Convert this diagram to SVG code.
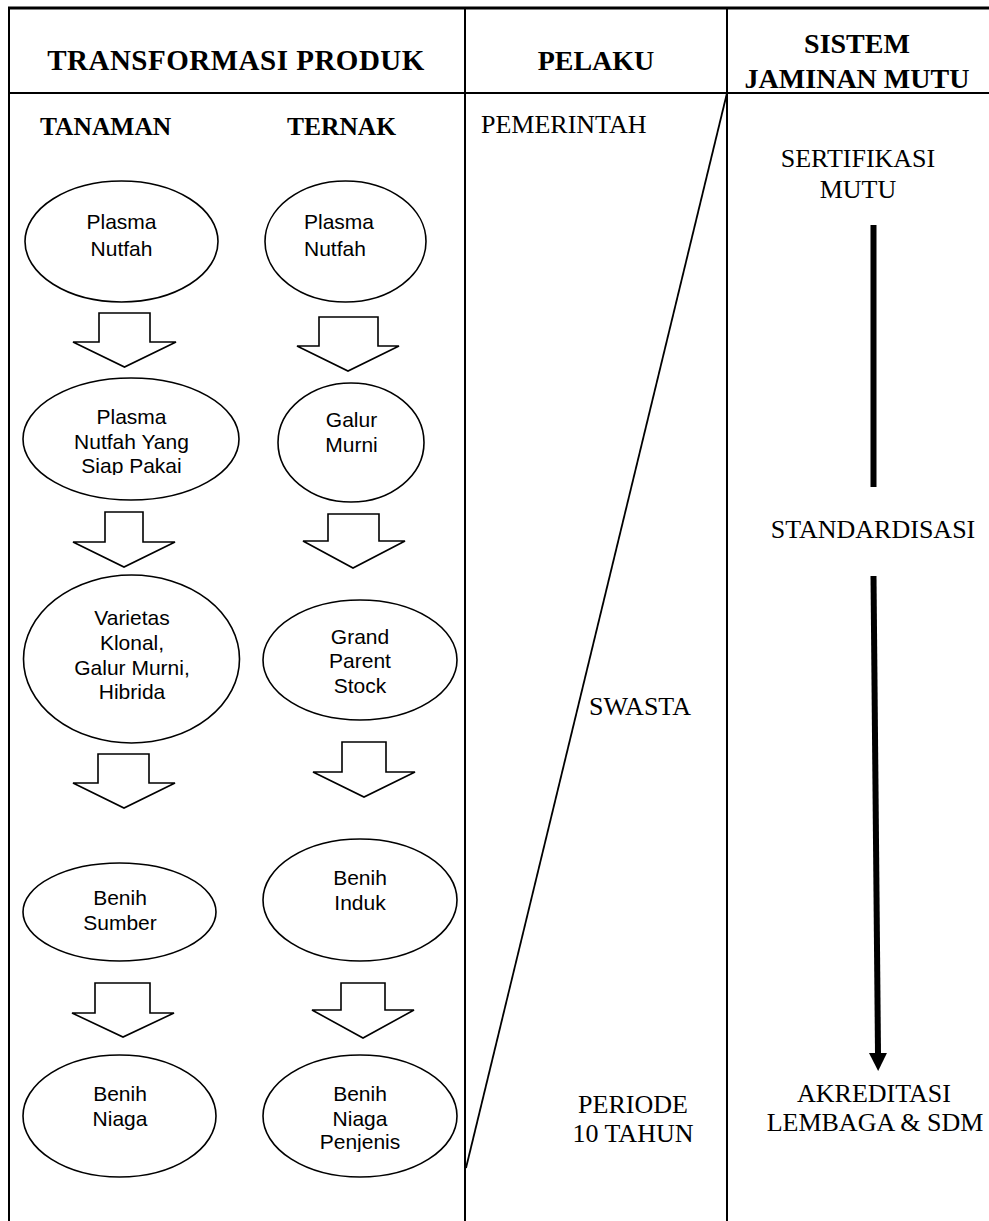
<svg xmlns="http://www.w3.org/2000/svg" width="989" height="1221" viewBox="0 0 989 1221">
  <style>
    .frame { stroke: #000; stroke-width: 2; fill: none; }
    .head { font-family: "Liberation Serif", "Times New Roman", serif; font-weight: bold; fill: #000; }
    .lbl { font-family: "Liberation Serif", "Times New Roman", serif; font-size: 26px; fill: #000; }
    .node ellipse { fill: #fff; stroke: #000; stroke-width: 1.6; }
    .node text { font-family: "Liberation Sans", Arial, sans-serif; font-size: 21px; fill: #000; text-anchor: middle; }
    .node text.lft { text-anchor: start; }
    .blk { fill: #fff; stroke: #000; stroke-width: 1.6; stroke-linejoin: miter; }
    .bar { stroke: #000; stroke-width: 6; fill: none; }
  </style>
  <defs>
    <marker id="solidHead" markerUnits="userSpaceOnUse" markerWidth="18" markerHeight="18" refX="0" refY="9" orient="auto">
      <path d="M0,0 L18,9 L0,18 z" fill="#000"/>
    </marker>
    <clipPath id="clipSiap"><rect x="20" y="370" width="230" height="105"/></clipPath>
    <clipPath id="clipPenjenis"><rect x="260" y="1050" width="200" height="102"/></clipPath>
  </defs>

  <rect width="989" height="1221" fill="#fff"/>

  <!-- table frame (right edge runs off the page) -->
  <g id="frame">
    <line x1="8" y1="8" x2="989" y2="8" stroke="#000" stroke-width="3"/>
    <line class="frame" x1="9" y1="8" x2="9" y2="1221"/>
    <line class="frame" x1="465" y1="8" x2="465" y2="1221"/>
    <line class="frame" x1="727" y1="8" x2="727" y2="1221"/>
    <line class="frame" x1="9" y1="93" x2="989" y2="93"/>
    <!-- government / private split -->
    <line x1="727" y1="93" x2="466" y2="1168" stroke="#000" stroke-width="1.8"/>
  </g>

  <!-- column headings -->
  <g id="headings">
    <text class="head" x="236" y="70" font-size="29" letter-spacing="0.5" text-anchor="middle">TRANSFORMASI PRODUK</text>
    <text class="head" x="596" y="70" font-size="28" text-anchor="middle">PELAKU</text>
    <text class="head" x="857" y="53" font-size="28" text-anchor="middle">SISTEM</text>
    <text class="head" x="857" y="88" font-size="28" text-anchor="middle">JAMINAN MUTU</text>
    <text class="head" x="40" y="135" font-size="25.5">TANAMAN</text>
    <text class="head" x="287" y="135" font-size="25.5">TERNAK</text>
  </g>

  <!-- actors -->
  <g id="pelaku">
    <text class="lbl" x="481" y="133">PEMERINTAH</text>
    <text class="lbl" x="589" y="715">SWASTA</text>
    <text class="lbl" x="633" y="1113" text-anchor="middle">PERIODE</text>
    <text class="lbl" x="633" y="1142" text-anchor="middle">10 TAHUN</text>
  </g>

  <!-- quality assurance column -->
  <g id="mutu">
    <text class="lbl" x="858" y="167" text-anchor="middle">SERTIFIKASI</text>
    <text class="lbl" x="858" y="198" text-anchor="middle">MUTU</text>
    <text class="lbl" x="873" y="538" text-anchor="middle">STANDARDISASI</text>
    <text class="lbl" x="874" y="1102" text-anchor="middle">AKREDITASI</text>
    <text class="lbl" x="875" y="1131" text-anchor="middle">LEMBAGA &amp; SDM</text>
  </g>

  <!-- crop column -->
  <g id="tanaman-plasma-nutfah" class="node">
    <ellipse cx="121.5" cy="241.5" rx="96.5" ry="60.5"/>
    <text x="121.5" y="229" font-size="23">Plasma</text>
    <text x="121.5" y="256" font-size="23">Nutfah</text>
  </g>
  <g id="tanaman-siap-pakai" class="node">
    <ellipse cx="131" cy="439" rx="108" ry="61"/>
    <g clip-path="url(#clipSiap)">
      <text x="131.5" y="424">Plasma</text>
      <text x="131.5" y="449">Nutfah Yang</text>
      <text x="131.5" y="473">Siap Pakai</text>
    </g>
  </g>
  <g id="tanaman-varietas" class="node">
    <ellipse cx="131.5" cy="659" rx="108" ry="84"/>
    <text x="132" y="625">Varietas</text>
    <text x="132" y="650">Klonal,</text>
    <text x="132" y="675">Galur Murni,</text>
    <text x="132" y="699">Hibrida</text>
  </g>
  <g id="tanaman-benih-sumber" class="node">
    <ellipse cx="119.5" cy="912" rx="96.5" ry="49"/>
    <text x="120" y="905">Benih</text>
    <text x="120" y="930">Sumber</text>
  </g>
  <g id="tanaman-benih-niaga" class="node">
    <ellipse cx="119.5" cy="1116" rx="96.5" ry="61"/>
    <text x="120" y="1101">Benih</text>
    <text x="120" y="1126">Niaga</text>
  </g>

  <!-- livestock column -->
  <g id="ternak-plasma-nutfah" class="node">
    <ellipse cx="345.5" cy="241.5" rx="80.5" ry="60.5"/>
    <text class="lft" x="304" y="229" font-size="23">Plasma</text>
    <text class="lft" x="304" y="256" font-size="23">Nutfah</text>
  </g>
  <g id="ternak-galur-murni" class="node">
    <ellipse cx="351" cy="442.5" rx="73" ry="59.5"/>
    <text x="351.5" y="427">Galur</text>
    <text x="351.5" y="452">Murni</text>
  </g>
  <g id="ternak-grand-parent" class="node">
    <ellipse cx="360" cy="660" rx="97" ry="60"/>
    <text x="360" y="644">Grand</text>
    <text x="360" y="668">Parent</text>
    <text x="360" y="693">Stock</text>
  </g>
  <g id="ternak-benih-induk" class="node">
    <ellipse cx="360" cy="900" rx="97" ry="61"/>
    <text x="360" y="885">Benih</text>
    <text x="360" y="910">Induk</text>
  </g>
  <g id="ternak-benih-niaga-penjenis" class="node">
    <ellipse cx="360" cy="1116" rx="97" ry="61"/>
    <g clip-path="url(#clipPenjenis)">
      <text x="360" y="1101">Benih</text>
      <text x="360" y="1126">Niaga</text>
      <text x="360" y="1149">Penjenis</text>
    </g>
  </g>

  <!-- connectors -->
  <g id="connectors">
    <!-- block arrows, crop column -->
    <polygon class="blk" points="99,313 150,313 150,342 176,342 124.5,367 73,342 99,342"/>
    <polygon class="blk" points="105,512 143,512 143,542 175,542 124,567 73,542 105,542"/>
    <polygon class="blk" points="98,754 149,754 149,783 175,783 124,808 73,783 98,783"/>
    <polygon class="blk" points="95,983 150,983 150,1013 174,1013 123,1037 72,1013 95,1013"/>
    <!-- block arrows, livestock column -->
    <polygon class="blk" points="319,317 378,317 378,346 399,346 348,371 297,346 319,346"/>
    <polygon class="blk" points="328,514 379,514 379,541 405,541 353,568 303,541 328,541"/>
    <polygon class="blk" points="342,742 386,742 386,772 415,772 364,797 313,772 342,772"/>
    <polygon class="blk" points="341,983 385,983 385,1010 414,1010 363,1038 312,1010 341,1010"/>
    <!-- quality system flow -->
    <line class="bar" x1="873.5" y1="225" x2="873.5" y2="487"/>
    <line class="bar" x1="873.5" y1="576" x2="878" y2="1053" marker-end="url(#solidHead)"/>
  </g>
</svg>
